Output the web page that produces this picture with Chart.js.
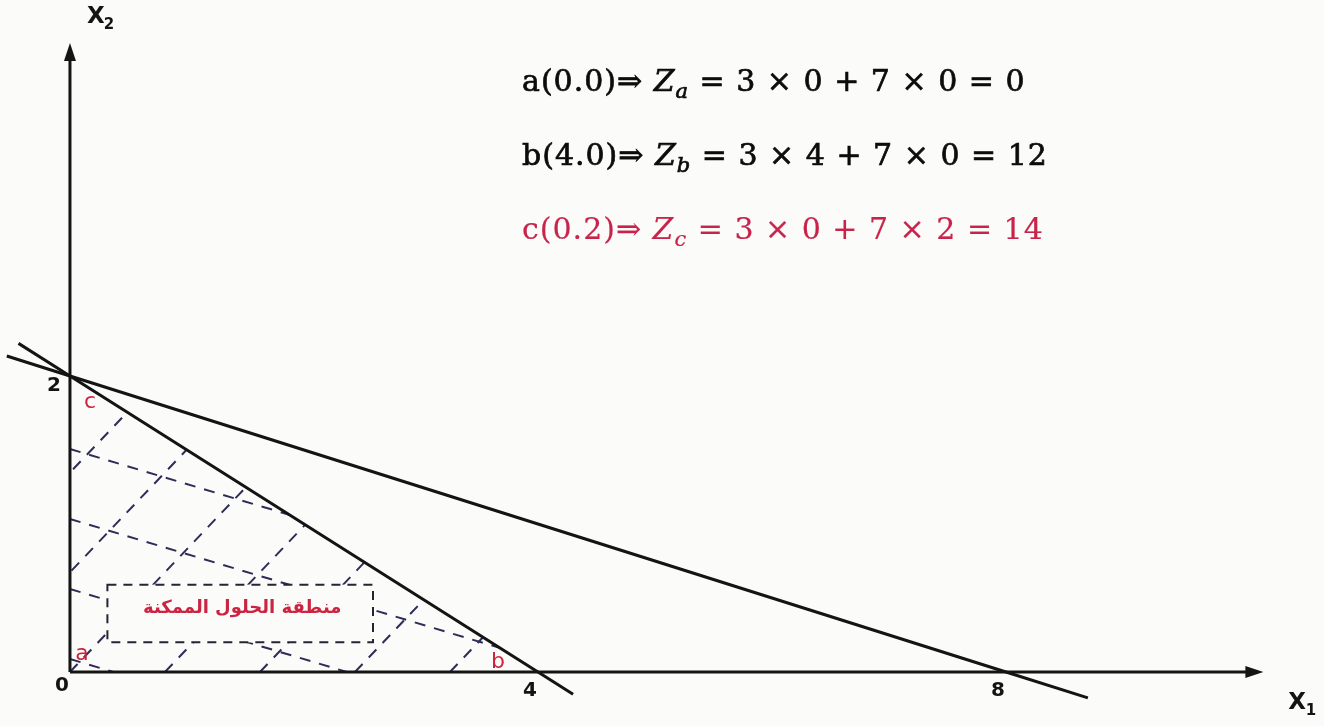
<!DOCTYPE html>
<html>
<head>
<meta charset="utf-8">
<script src="https://cdn.jsdelivr.net/npm/chart.js@4.4.1/dist/chart.umd.min.js"></script>
<style>
  html, body { margin: 0; padding: 0; background: #fbfbf9; }
  #wrap { width: 1324px; height: 726px; }
</style>
</head>
<body>
<div id="wrap"><canvas id="lp" width="1324" height="726"></canvas></div>
<script>
// Corners of the feasible region
const cornerNames = ['a', 'b', 'c'];
const cornerX = [0, 4, 0];
const cornerY = [0, 0, 2];

// Constraint lines (incl. the overshoot past the axes)
const line1X = [-0.44, 0, 4, 4.3];
const line1Y = [2.22, 2, 0, -0.15];
const line2X = [-0.54, 0, 8, 8.7];
const line2Y = [2.135, 2, 0, -0.175];

// Tick labels
const xTicks = [0, 4, 8];
const yTicks = [2];

// Objective value at each corner
const zPrefix = ['a(0.0)⇒ ', 'b(4.0)⇒ ', 'c(0.2)⇒ '];
const zSub = ['a', 'b', 'c'];
const zRest = [' = 3 × 0 + 7 × 0 = 0', ' = 3 × 4 + 7 × 0 = 12', ' = 3 × 0 + 7 × 2 = 14'];
const zColor = ['#0c0c0c', '#0c0c0c', '#c8234a'];

const regionLabel = 'منطقة الحلول الممكنة';

const INK = '#141414';
const RED = '#cc2340';
const toPts = (xs, ys) => xs.map((x, i) => ({ x, y: ys[i] }));

const px = (c, x, y) => [c.scales.x.getPixelForValue(x), c.scales.y.getPixelForValue(y)];

// Axes with arrows, hatching of the region, the dashed label box
const backdrop = {
  id: 'backdrop',
  beforeDatasetsDraw(c) {
    const { ctx } = c;
    const [ox, oy] = px(c, 0, 0);
    const [ax] = px(c, 10.2, 0);
    const [, ay] = px(c, 0, 4.25);
    ctx.save();
    // hatching, clipped to the triangle
    ctx.beginPath();
    cornerX.forEach((x, i) => {
      const [qx, qy] = px(c, x, cornerY[i]);
      if (i) ctx.lineTo(qx, qy); else ctx.moveTo(qx, qy);
    });
    ctx.closePath();
    ctx.save();
    ctx.clip();
    ctx.setLineDash([11, 9]);
    ctx.strokeStyle = '#2e2c58';
    ctx.lineWidth = 2;
    for (let k = -2; k <= 4; k++) {
      const x0 = ox + 95 * k;
      ctx.beginPath();
      ctx.moveTo(x0, oy);
      ctx.lineTo(x0 + 600, oy - 630);
      ctx.stroke();
    }
    const [, cy] = px(c, 0, 2);
    for (let k = 1; k <= 4; k++) {
      const y0 = cy + 3 + 70 * k;
      ctx.beginPath();
      ctx.moveTo(ox, y0);
      ctx.lineTo(ox + 600, y0 + 180);
      ctx.stroke();
    }
    ctx.restore();
    // dashed box with the region label
    const [bx1, by1] = px(c, 0.32, 0.59);
    const [bx2, by2] = px(c, 2.59, 0.2);
    ctx.fillStyle = '#fbfbf9';
    ctx.fillRect(bx1, by1, bx2 - bx1, by2 - by1);
    ctx.setLineDash([9, 7]);
    ctx.strokeStyle = '#262433';
    ctx.lineWidth = 2;
    ctx.strokeRect(bx1, by1, bx2 - bx1, by2 - by1);
    ctx.setLineDash([]);
    ctx.fillStyle = RED;
    ctx.font = 'bold 18px "DejaVu Sans"';
    ctx.textAlign = 'center';
    ctx.textBaseline = 'middle';
    ctx.fillText(regionLabel, (bx1 + bx2) / 2 + 2, (by1 + by2) / 2 - 5);
    // axes
    ctx.strokeStyle = INK;
    ctx.fillStyle = INK;
    ctx.lineWidth = 3;
    ctx.beginPath();
    ctx.moveTo(ox, oy);
    ctx.lineTo(ax - 6, oy);
    ctx.moveTo(ox, oy);
    ctx.lineTo(ox, ay + 6);
    ctx.stroke();
    ctx.beginPath();
    ctx.moveTo(ax, oy);
    ctx.lineTo(ax - 18, oy - 6);
    ctx.lineTo(ax - 18, oy + 6);
    ctx.closePath();
    ctx.fill();
    ctx.beginPath();
    ctx.moveTo(ox, ay);
    ctx.lineTo(ox - 6, ay + 18);
    ctx.lineTo(ox + 6, ay + 18);
    ctx.closePath();
    ctx.fill();
    ctx.restore();
  },
  afterDraw(c) {
    const { ctx } = c;
    const [ox, oy] = px(c, 0, 0);
    ctx.save();
    ctx.textAlign = 'center';
    ctx.textBaseline = 'middle';
    ctx.fillStyle = INK;
    ctx.font = 'bold 20px "DejaVu Sans"';
    xTicks.forEach((v) => {
      const [tx] = px(c, v, 0);
      ctx.fillText(String(v), tx - 8, oy + (v === 0 ? 14 : 19));
    });
    yTicks.forEach((v) => {
      const [, ty] = px(c, 0, v);
      ctx.fillText(String(v), ox - 16, ty + 10);
    });
    // axis names
    ctx.font = 'bold 23px "DejaVu Sans"';
    ctx.fillText('X', ox + 26, 17);
    ctx.fillText('X', 1297, oy + 31);
    ctx.font = 'bold 15px "DejaVu Sans"';
    ctx.fillText('2', ox + 39, 25);
    ctx.fillText('1', 1311, oy + 39);
    // corner letters
    const offs = [[12, -18], [-40, -10], [20, 26]];
    ctx.fillStyle = RED;
    ctx.font = '22px "DejaVu Sans"';
    cornerNames.forEach((n, i) => {
      const [qx, qy] = px(c, cornerX[i], cornerY[i]);
      ctx.fillText(n, qx + offs[i][0], qy + offs[i][1]);
    });
    // objective values
    ctx.textAlign = 'left';
    ctx.textBaseline = 'alphabetic';
    ctx.letterSpacing = '1px';
    const base = [91, 165, 239];
    zPrefix.forEach((p, i) => {
      let x = 522;
      const y = base[i];
      ctx.fillStyle = zColor[i];
      ctx.strokeStyle = zColor[i];
      ctx.lineWidth = i < 2 ? 0.7 : 0.2;
      const put = (t, font, dy) => {
        ctx.font = font;
        ctx.fillText(t, x, y + dy);
        ctx.strokeText(t, x, y + dy);
        x += ctx.measureText(t).width;
      };
      put(p, '30px "DejaVu Serif"', 0);
      put('Z', 'italic 30px "DejaVu Serif"', 0);
      put(zSub[i], 'italic 21px "DejaVu Serif"', 7);
      put(zRest[i], '30px "DejaVu Serif"', 0);
    });
    ctx.restore();
  },
};

const lineStyle = {
  type: 'line',
  showLine: true,
  borderColor: INK,
  borderWidth: 3,
  pointRadius: 0,
  fill: false,
};

new Chart(document.getElementById('lp'), {
  type: 'scatter',
  data: {
    datasets: [
      { ...lineStyle, label: 'x1 + 2x2 = 4', data: toPts(line1X, line1Y) },
      { ...lineStyle, label: 'x1 + 4x2 = 8', data: toPts(line2X, line2Y) },
    ],
  },
  options: {
    responsive: false,
    devicePixelRatio: 1,
    animation: false,
    layout: { padding: 0 },
    scales: {
      x: { type: 'linear', min: -0.598, max: 10.718, display: false },
      y: { type: 'linear', min: -0.365, max: 4.54, display: false },
    },
    plugins: {
      legend: { display: false },
      tooltip: { enabled: false },
    },
  },
  plugins: [backdrop],
});
</script>
</body>
</html>
